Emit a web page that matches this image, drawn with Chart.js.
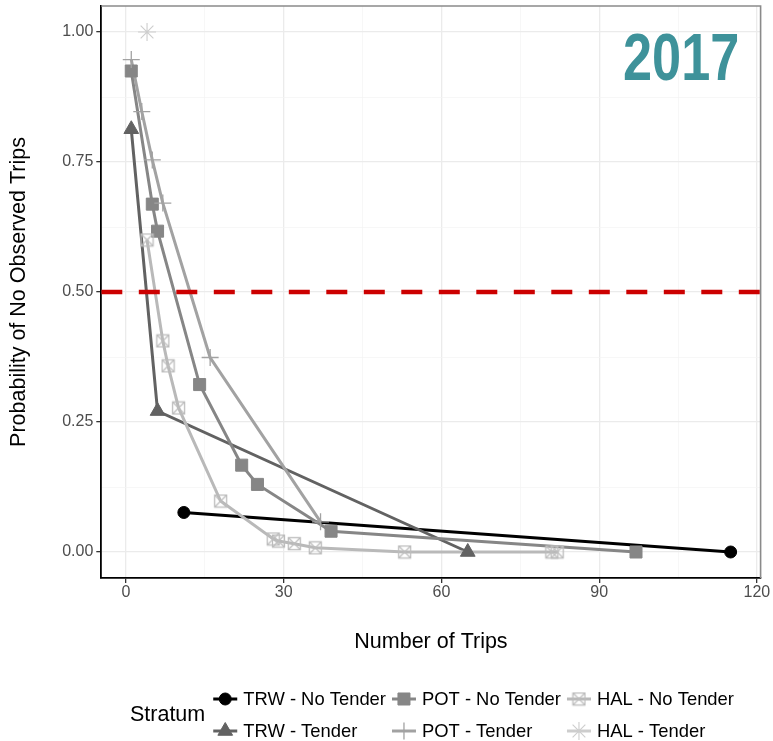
<!DOCTYPE html>
<html>
<head>
<meta charset="utf-8">
<script src="https://cdn.jsdelivr.net/npm/chart.js@4.4.1/dist/chart.umd.min.js"></script>
<style>
  html, body { margin: 0; padding: 0; background: #ffffff; }
  canvas { display: block; }
</style>
</head>
<body>
<canvas id="chart" width="773" height="741"></canvas>
<script>
// Probability of no observed trips by number of trips, per stratum (2017)
const strata = ['TRW - No Tender', 'TRW - Tender', 'POT - No Tender', 'POT - Tender', 'HAL - No Tender', 'HAL - Tender'];

const trwNoTenderTrips = [11, 115];
const trwNoTenderProb  = [0.076, 0.000];

const trwTenderTrips = [1, 6, 65];
const trwTenderProb  = [0.813, 0.271, 0.000];

const potNoTenderTrips = [1, 5, 6, 14, 22, 25, 39, 97];
const potNoTenderProb  = [0.925, 0.669, 0.617, 0.322, 0.167, 0.130, 0.040, 0.000];

const potTenderTrips = [1, 3, 5, 7, 16, 37];
const potTenderProb  = [0.947, 0.847, 0.754, 0.671, 0.374, 0.058];

const halNoTenderTrips = [4, 7, 8, 10, 18, 28, 29, 32, 36, 53, 81, 82];
const halNoTenderProb  = [0.600, 0.406, 0.358, 0.277, 0.098, 0.025, 0.021, 0.016, 0.008, 0.000, 0.000, 0.000];

const halTenderTrips = [4];
const halTenderProb  = [1.000];

const thresholdProb = 0.5;
const xTickLabels = [0, 30, 60, 90, 120];
const yTickLabels = [0, 0.25, 0.5, 0.75, 1.0];
const yearLabel = '2017';
const legendTitle = 'Stratum';

// ---- marker for the boxed-cross symbol ----
function boxedCross(size, color) {
  const c = document.createElement('canvas');
  c.width = size + 2; c.height = size + 2;
  const g = c.getContext('2d');
  g.strokeStyle = color;
  g.lineWidth = 1.3;
  const o = 1.5, s = size - 1;
  g.strokeRect(o, o, s, s);
  g.beginPath();
  g.moveTo(o, o); g.lineTo(o + s, o + s);
  g.moveTo(o + s, o); g.lineTo(o, o + s);
  g.stroke();
  return c;
}

const greys = ['#000000', '#626262', '#868686', '#a2a2a2', '#b9b9b9', '#cdcdcd'];
const markers = [
  { pointStyle: 'circle',   radius: 6,   borderWidth: 1 },
  { pointStyle: 'triangle', radius: 8.5, borderWidth: 1 },
  { pointStyle: 'rect',     radius: 8.5, borderWidth: 1 },
  { pointStyle: 'cross',    radius: 8.5, borderWidth: 1.3 },
  { pointStyle: boxedCross(13, '#bcbcbc'), radius: 7.5, borderWidth: 1 },
  { pointStyle: 'star',     radius: 9,   borderWidth: 1.1 }
];

const seriesTrips = [trwNoTenderTrips, trwTenderTrips, potNoTenderTrips, potTenderTrips, halNoTenderTrips, halTenderTrips];
const seriesProb  = [trwNoTenderProb,  trwTenderProb,  potNoTenderProb,  potTenderProb,  halNoTenderProb,  halTenderProb];

const toPoints = (xs, ys) => xs.map((x, i) => ({ x: x, y: ys[i] }));

// axis limits with 5% padding around the data
const allX = seriesTrips.flat(), allY = seriesProb.flat();
const xMinD = Math.min(...allX), xMaxD = Math.max(...allX);
const yMinD = Math.min(...allY), yMaxD = Math.max(...allY);
const xPad = (xMaxD - xMinD) * 0.05, yPad = (yMaxD - yMinD) * 0.05;
const xMin = xMinD - xPad, xMax = xMaxD + xPad;
const yMin = yMinD - yPad, yMax = yMaxD + yPad;

const datasets = [];
// connecting lines (drawn underneath all markers)
strata.forEach((name, i) => {
  datasets.push({
    label: name,
    data: toPoints(seriesTrips[i], seriesProb[i]),
    showLine: true,
    borderColor: greys[i],
    borderWidth: 3,
    pointRadius: 0,
    pointHoverRadius: 0,
    tension: 0,
    order: 20 - i
  });
});
// markers
strata.forEach((name, i) => {
  const m = markers[i];
  datasets.push({
    label: name + ' points',
    data: toPoints(seriesTrips[i], seriesProb[i]),
    showLine: false,
    pointStyle: m.pointStyle,
    pointRadius: m.radius,
    pointHoverRadius: m.radius,
    pointBorderWidth: m.borderWidth,
    pointBackgroundColor: greys[i],
    pointBorderColor: greys[i],
    order: 10 - i
  });
});
// 50% reference line
datasets.push({
  label: 'threshold',
  data: [{ x: xMin, y: thresholdProb }, { x: xMax, y: thresholdProb }],
  showLine: true,
  borderColor: '#cc0000',
  borderWidth: 4.3,
  borderDash: [21, 16.5],
  pointRadius: 0,
  order: 0
});

const FONT = '"Liberation Sans", Arial, Helvetica, sans-serif';

const isMajor = (vals, v) => vals.some(t => Math.abs(t - v) < 1e-9);

// panel frame on top and right
const framePlugin = {
  id: 'frame',
  afterDatasetsDraw(chart) {
    const { ctx, chartArea: a } = chart;
    ctx.save();
    ctx.strokeStyle = '#8a8a8a';
    ctx.lineWidth = 1.6;
    ctx.beginPath();
    ctx.moveTo(a.left, a.top);
    ctx.lineTo(a.right, a.top);
    ctx.lineTo(a.right, a.bottom);
    ctx.stroke();
    ctx.restore();
  }
};

// year annotation in the upper right of the panel
const yearPlugin = {
  id: 'year',
  afterDatasetsDraw(chart) {
    const { ctx, chartArea: a } = chart;
    ctx.save();
    ctx.font = 'bold 67px ' + FONT;
    ctx.fillStyle = '#3e929a';
    ctx.textBaseline = 'alphabetic';
    const m = ctx.measureText(yearLabel);
    const ink = m.actualBoundingBoxLeft + m.actualBoundingBoxRight;
    const targetW = 113;
    const sx = targetW / ink;
    const right = a.right - 23;
    ctx.translate(right - targetW, a.top + 74);
    ctx.scale(sx, 1);
    ctx.fillText(yearLabel, m.actualBoundingBoxLeft, 0);
    ctx.restore();
  }
};

// stratum legend below the plot: 2 rows x 3 columns
const legendPlugin = {
  id: 'stratumLegend',
  afterDraw(chart) {
    const { ctx, chartArea: a } = chart;
    const labelFont = '18.4px ' + FONT;
    const titleFont = '21.5px ' + FONT;
    const keyW = 24, keyGap = 6, colGap = 6, titleGap = 8;
    const rows = [699, 731];
    const cols = [[0, 1], [2, 3], [4, 5]];
    ctx.save();
    ctx.font = labelFont;
    const colW = cols.map(c => Math.max(...c.map(i => ctx.measureText(strata[i]).width)));
    ctx.font = titleFont;
    const titleW = ctx.measureText(legendTitle).width;
    const total = titleW + titleGap + colW.reduce((s, w) => s + keyW + keyGap + w, 0) + colGap * (cols.length - 1);
    let x = (a.left + a.right) / 2 + 1 - total / 2;
    ctx.fillStyle = '#000';
    ctx.textBaseline = 'middle';
    ctx.fillText(legendTitle, x, (rows[0] + rows[1]) / 2);
    x += titleW + titleGap;
    cols.forEach((c, ci) => {
      c.forEach((si, ri) => {
        const y = rows[ri];
        // key line
        ctx.strokeStyle = greys[si];
        ctx.lineWidth = 3;
        ctx.setLineDash([]);
        ctx.beginPath();
        ctx.moveTo(x, y);
        ctx.lineTo(x + keyW, y);
        ctx.stroke();
        // key marker
        const m = markers[si];
        ctx.fillStyle = greys[si];
        ctx.strokeStyle = greys[si];
        ctx.lineWidth = m.borderWidth;
        Chart.helpers.drawPoint(ctx, { pointStyle: m.pointStyle, radius: m.radius, borderWidth: m.borderWidth, rotation: 0 }, x + keyW / 2, y);
        // label
        ctx.font = labelFont;
        ctx.fillStyle = '#000';
        ctx.textBaseline = 'middle';
        ctx.fillText(strata[si], x + keyW + keyGap, y + 1);
      });
      x += keyW + keyGap + colW[ci] + colGap;
    });
    ctx.restore();
  }
};

new Chart(document.getElementById('chart'), {
  type: 'scatter',
  data: { datasets: datasets },
  options: {
    responsive: false,
    animation: false,
    devicePixelRatio: 1,
    layout: { autoPadding: false, padding: { left: 0, top: 6, right: 773 - 760.6, bottom: 0 } },
    plugins: {
      legend: { display: false },
      tooltip: { enabled: false },
      title: { display: false }
    },
    scales: {
      x: {
        type: 'linear',
        min: xMin,
        max: xMax,
        afterFit(s) { s.height = 163; s.paddingLeft = 0; s.paddingRight = 0; },
        afterBuildTicks(s) {
          const t = [];
          for (let v = 0; v <= 120; v += 15) t.push({ value: v });
          s.ticks = t;
        },
        border: { color: '#000000', width: 1.8 },
        grid: {
          color: c => isMajor(xTickLabels, c.tick.value) ? '#ebebeb' : '#f4f4f4',
          lineWidth: c => isMajor(xTickLabels, c.tick.value) ? 1.3 : 0.7,
          tickColor: c => isMajor(xTickLabels, c.tick.value) ? '#333333' : 'rgba(0,0,0,0)',
          tickWidth: 1.3,
          tickLength: 5
        },
        ticks: {
          autoSkip: false,
          maxRotation: 0,
          padding: 0,
          color: '#4d4d4d',
          font: { family: FONT, size: 16 },
          callback: v => isMajor(xTickLabels, v) ? String(Math.round(v)) : ''
        },
        title: {
          display: true,
          text: 'Number of Trips',
          color: '#000000',
          font: { family: FONT, size: 21.5 },
          padding: { top: 0, bottom: 86 }
        }
      },
      y: {
        type: 'linear',
        min: yMin,
        max: yMax,
        afterFit(s) { s.width = 101.3; s.paddingTop = 0; s.paddingBottom = 0; },
        afterBuildTicks(s) {
          const t = [];
          for (let v = 0; v <= 1.0001; v += 0.125) t.push({ value: Math.round(v * 1000) / 1000 });
          s.ticks = t;
        },
        border: { color: '#000000', width: 1.8 },
        grid: {
          color: c => isMajor(yTickLabels, c.tick.value) ? '#ebebeb' : '#f4f4f4',
          lineWidth: c => isMajor(yTickLabels, c.tick.value) ? 1.3 : 0.7,
          tickColor: c => isMajor(yTickLabels, c.tick.value) ? '#333333' : 'rgba(0,0,0,0)',
          tickWidth: 1.3,
          tickLength: 5
        },
        ticks: {
          autoSkip: false,
          padding: 3,
          color: '#4d4d4d',
          font: { family: FONT, size: 16 },
          callback: v => isMajor(yTickLabels, v) ? v.toFixed(2) : ''
        },
        title: {
          display: true,
          text: 'Probability of No Observed Trips',
          color: '#000000',
          font: { family: FONT, size: 21.5 },
          padding: { top: 6, bottom: 0 }
        }
      }
    }
  },
  plugins: [framePlugin, yearPlugin, legendPlugin]
});
</script>
</body>
</html>
